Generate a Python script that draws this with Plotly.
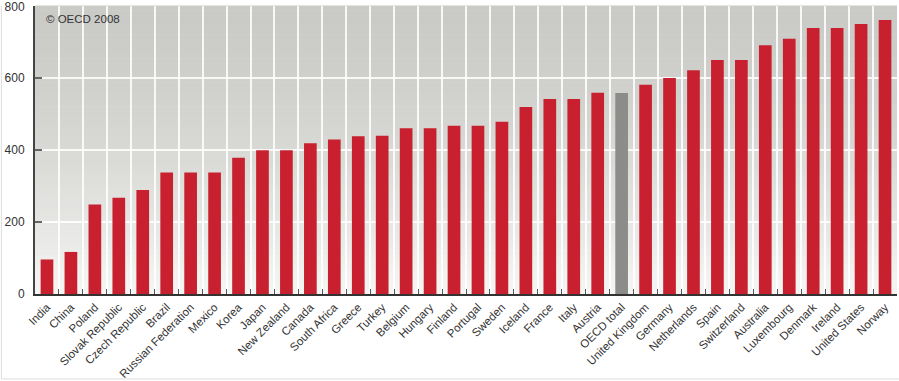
import plotly.graph_objects as go

countries = ["India", "China", "Poland", "Slovak Republic", "Czech Republic", "Brazil",
             "Russian Federation", "Mexico", "Korea", "Japan", "New Zealand", "Canada",
             "South Africa", "Greece", "Turkey", "Belgium", "Hungary", "Finland",
             "Portugal", "Sweden", "Iceland", "France", "Italy", "Austria", "OECD total",
             "United Kingdom", "Germany", "Netherlands", "Spain", "Switzerland",
             "Australia", "Luxembourg", "Denmark", "Ireland", "United States", "Norway"]
values = [96, 117, 249, 268, 289, 338, 338, 338, 379, 400, 400, 419,
          430, 439, 440, 461, 461, 468, 468, 479, 520, 542, 542, 560, 559,
          582, 601, 622, 651, 651, 692, 710, 740, 740, 751, 762]
highlight = "OECD total"
y_ticks = [0, 200, 400, 600, 800]

colors = ["#8c8c8a" if c == highlight else "#c8202e" for c in countries]

fig = go.Figure(go.Bar(x=countries, y=values, marker=dict(color=colors, line=dict(width=0)),
                       hoverinfo="x+y"))

# gradient background bands (styling only)
shapes = []
n = 60
top = (202, 202, 198)
bot = (246, 246, 244)
for i in range(n):
    f0 = i / n
    f1 = (i + 1) / n
    t = (f0 + f1) / 2  # 0 bottom, 1 top
    w = min(1.0, (1 - t) ** 1.6)
    c = tuple(int(round(top[k] + (bot[k] - top[k]) * w)) for k in range(3))
    shapes.append(dict(type="rect", xref="x domain", yref="y domain", x0=0, x1=1,
                       y0=f0, y1=f1 + 0.002, fillcolor="rgb(%d,%d,%d)" % c,
                       line=dict(width=0), layer="below"))
# frame lines
shapes.append(dict(type="line", xref="paper", yref="paper", x0=-0.039, x1=-0.039,
                   y0=-0.295, y1=1.0, line=dict(color="#dcdcdc", width=1)))
shapes.append(dict(type="line", xref="paper", yref="paper", x0=-0.039, x1=1.002,
                   y0=-0.295, y1=-0.295, line=dict(color="#dcdcdc", width=1)))

fig.update_layout(
    width=899, height=381,
    margin=dict(l=35, r=2, t=6, b=87),
    paper_bgcolor="white", plot_bgcolor="rgba(0,0,0,0)",
    bargap=0.47, showlegend=False,
    shapes=shapes,
    font=dict(family="Liberation Sans, Arial, sans-serif", color="#333"),
    annotations=[dict(text="© OECD 2008", xref="x domain", yref="y domain",
                      x=0.011, y=0.955, xanchor="left", yanchor="middle",
                      showarrow=False, font=dict(size=11.5, color="#333"))],
)
fig.update_xaxes(
    automargin=False,
    tickangle=-45, tickfont=dict(size=11.5, color="#333"),
    ticklabeloverflow="allow",
    tickson="boundaries", ticks="inside", ticklen=5, tickcolor="#555", tickwidth=1,
    showgrid=True, gridcolor="rgba(255,255,255,0.85)", gridwidth=2,
    showline=True, linecolor="#333", linewidth=2, zeroline=False,
    range=[-0.5, len(countries) - 0.5],
)
fig.update_yaxes(
    automargin=False,
    range=[0, 801], tickvals=y_ticks, ticktext=[str(v) for v in y_ticks],
    tickfont=dict(size=12, color="#333"),
    ticklabeloverflow="allow",
    ticks="inside", ticklen=7, tickcolor="#666", tickwidth=2,
    ticklabelstandoff=6,
    showgrid=True, gridcolor="rgba(255,255,255,0.85)", gridwidth=2,
    showline=True, linecolor="#444", linewidth=2, zeroline=False,
)
fig.write_html("out.html", config={"displayModeBar": False},
               post_script="document.body.style.margin='0';document.body.style.overflow='hidden';")
